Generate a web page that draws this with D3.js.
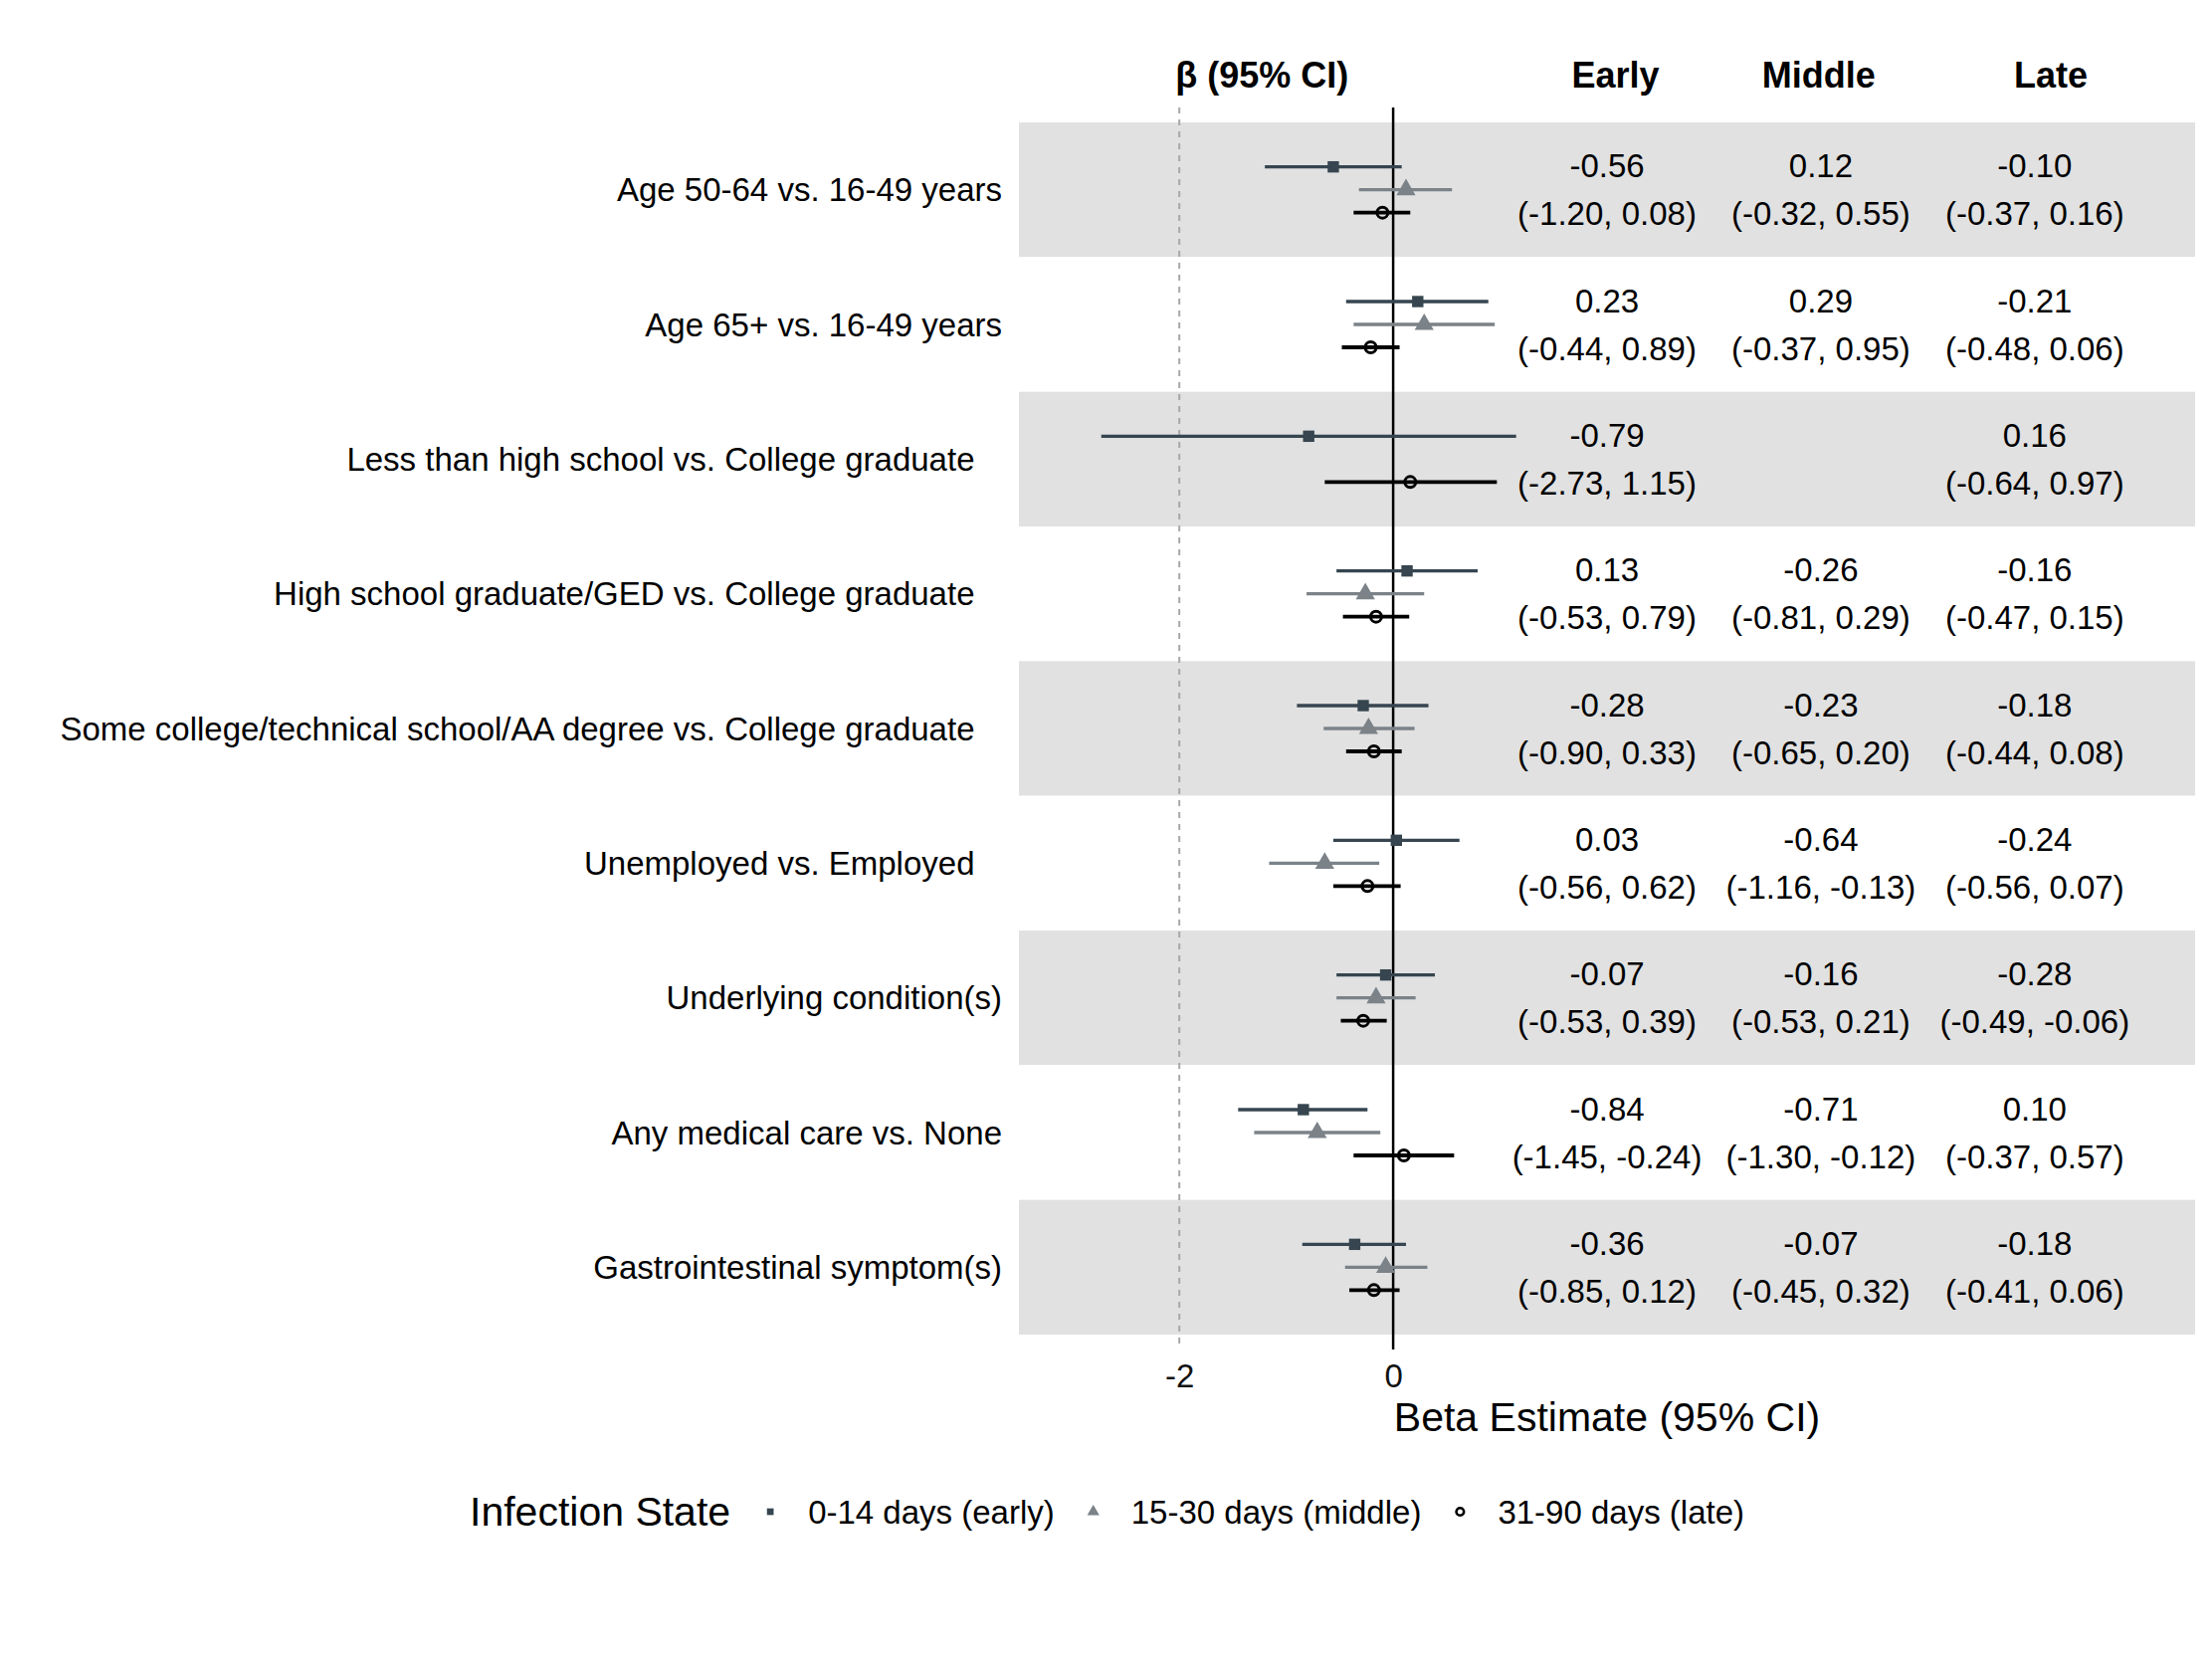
<!DOCTYPE html>
<html>
<head>
<meta charset="utf-8">
<script src="https://cdn.jsdelivr.net/npm/d3@7"></script>
<style>
  body { margin: 0; background: #fff; }
  svg { font-family: "Liberation Sans", Arial, sans-serif; }
</style>
</head>
<body>
<svg id="chart"></svg>
<script>
const W = 2223, H = 1667;

// row labels (trailing spaces are in the original strings)
const labels = [
    "Age 50-64 vs. 16-49 years",
    "Age 65+ vs. 16-49 years",
    "Less than high school vs. College graduate   ",
    "High school graduate/GED vs. College graduate   ",
    "Some college/technical school/AA degree vs. College graduate   ",
    "Unemployed vs. Employed   ",
    "Underlying condition(s)",
    "Any medical care vs. None",
    "Gastrointestinal symptom(s)"
];

// [estimate, lower, upper]
const early = [
    [-0.56, -1.20, 0.08],
    [0.23, -0.44, 0.89],
    [-0.79, -2.73, 1.15],
    [0.13, -0.53, 0.79],
    [-0.28, -0.90, 0.33],
    [0.03, -0.56, 0.62],
    [-0.07, -0.53, 0.39],
    [-0.84, -1.45, -0.24],
    [-0.36, -0.85, 0.12]
];
const middle = [
    [0.12, -0.32, 0.55],
    [0.29, -0.37, 0.95],
    null,
    [-0.26, -0.81, 0.29],
    [-0.23, -0.65, 0.20],
    [-0.64, -1.16, -0.13],
    [-0.16, -0.53, 0.21],
    [-0.71, -1.30, -0.12],
    [-0.07, -0.45, 0.32]
];
const late = [
    [-0.10, -0.37, 0.16],
    [-0.21, -0.48, 0.06],
    [0.16, -0.64, 0.97],
    [-0.16, -0.47, 0.15],
    [-0.18, -0.44, 0.08],
    [-0.24, -0.56, 0.07],
    [-0.28, -0.49, -0.06],
    [0.10, -0.37, 0.57],
    [-0.18, -0.41, 0.06]
];

const seriesKeys = ["early", "middle", "late"];
const seriesData = { early: early, middle: middle, late: late };
const seriesNames = ["0-14 days (early)", "15-30 days (middle)", "31-90 days (late)"];
const tableHeads = ["Early", "Middle", "Late"];
const xTicks = [-2, 0];

// look
const colors = { early: "#36454f", middle: "#7b8288", late: "#000000" };
const panel = { left: 1024, right: 2206, top: 123, bottom: 1341 };
const tableAt = [2, 4, 6];          // data units of the text columns
const headAt = [2.08, 3.98, 6.15];

const fmt = d3.formatLocale({ decimal: ".", thousands: ",", grouping: [3], currency: ["", ""], minus: "-" }).format(".2f");

const svg = d3.select("#chart").attr("width", W).attr("height", H);

const x = d3.scaleLinear().domain([-3.5, 7.5]).range([panel.left, panel.right]);
const y = d3.scaleBand().domain(d3.range(labels.length)).range([panel.top, panel.bottom]);
const off = d3.scalePoint().domain(seriesKeys).range([-23, 23]);

// striped bands
svg.append("g").selectAll("rect")
    .data(labels)
    .join("rect")
    .attr("x", panel.left)
    .attr("width", panel.right - panel.left)
    .attr("y", (d, i) => y(i))
    .attr("height", y.bandwidth())
    .attr("fill", (d, i) => i % 2 === 0 ? "#e1e1e1" : "#ffffff");

// row labels
svg.append("g").selectAll("text")
    .data(labels)
    .join("text")
    .attr("xml:space", "preserve")
    .style("white-space", "pre")
    .attr("x", 1007)
    .attr("y", (d, i) => y(i) + y.bandwidth() / 2)
    .attr("dy", "0.35em")
    .attr("text-anchor", "end")
    .attr("font-size", 33)
    .attr("fill", "#000")
    .text(d => d);

// reference lines
svg.append("line")
    .attr("x1", x(-2)).attr("x2", x(-2))
    .attr("y1", 108).attr("y2", 1356)
    .attr("stroke", "#a8a8a8").attr("stroke-width", 2)
    .attr("stroke-dasharray", "6,6");
svg.append("line")
    .attr("x1", x(0)).attr("x2", x(0))
    .attr("y1", 108).attr("y2", 1356)
    .attr("stroke", "#000").attr("stroke-width", 2.5);

// error bars + points
const shapes = {
    early: d3.symbol().type(d3.symbolSquare).size(130),
    middle: d3.symbol().type(d3.symbolTriangle).size(160)
};

seriesKeys.forEach(k => {
    const rows = seriesData[k].map((v, i) => v ? { i, est: v[0], lo: v[1], hi: v[2] } : null).filter(v => v);
    const g = svg.append("g");
    const cy = d => y(d.i) + y.bandwidth() / 2 + off(k);

    g.selectAll("line")
        .data(rows)
        .join("line")
        .attr("x1", d => x(d.lo)).attr("x2", d => x(d.hi))
        .attr("y1", cy).attr("y2", cy)
        .attr("stroke", colors[k])
        .attr("stroke-width", k === "late" ? 3.8 : 3.4);

    if (k === "late") {
        g.selectAll("circle")
            .data(rows)
            .join("circle")
            .attr("cx", d => x(d.est)).attr("cy", cy)
            .attr("r", 5.5)
            .attr("fill", "none")
            .attr("stroke", "#000").attr("stroke-width", 3);
    } else {
        g.selectAll("path")
            .data(rows)
            .join("path")
            .attr("transform", d => `translate(${x(d.est)},${cy(d)})`)
            .attr("d", shapes[k])
            .attr("fill", colors[k]);
    }
});

// table text
const tbl = svg.append("g").attr("font-size", 33).attr("fill", "#000").attr("text-anchor", "middle");
seriesKeys.forEach((k, c) => {
    seriesData[k].forEach((v, i) => {
        if (!v) return;
        const cyy = y(i) + y.bandwidth() / 2;
        tbl.append("text")
            .attr("x", x(tableAt[c])).attr("y", cyy - 24).attr("dy", "0.35em")
            .text(fmt(v[0]));
        tbl.append("text")
            .attr("x", x(tableAt[c])).attr("y", cyy + 24).attr("dy", "0.35em")
            .text(`(${fmt(v[1])}, ${fmt(v[2])})`);
    });
});

// headers
const heads = svg.append("g").attr("font-size", 36).attr("font-weight", "bold").attr("text-anchor", "middle");
heads.append("text")
    .attr("x", x(-2) - 4).attr("y", 75).attr("dy", "0.35em")
    .attr("text-anchor", "start")
    .text("β (95% CI)");
tableHeads.forEach((h, c) => {
    heads.append("text")
        .attr("x", x(headAt[c])).attr("y", 75).attr("dy", "0.35em")
        .text(h);
});

// x axis
const ax = svg.append("g")
    .attr("transform", `translate(0,1358)`)
    .call(d3.axisBottom(x).tickValues(xTicks).tickSize(0).tickPadding(13).tickFormat(d => String(d)));
ax.select(".domain").remove();
ax.selectAll("text")
    .attr("font-size", 33)
    .attr("fill", "#111")
    .style("font-family", "'Liberation Sans', Arial, sans-serif");

svg.append("text")
    .attr("x", (panel.left + panel.right) / 2)
    .attr("y", 1438)
    .attr("text-anchor", "middle")
    .attr("font-size", 41)
    .attr("fill", "#000")
    .text("Beta Estimate (95% CI)");

// legend
const leg = svg.append("g").attr("transform", "translate(472,1519)");
const legTitle = leg.append("text")
    .attr("dy", "0.35em")
    .attr("font-size", 41)
    .attr("fill", "#000")
    .text("Infection State");
let lx = legTitle.node().getComputedTextLength() + 40;
const legShapes = {
    early: d3.symbol().type(d3.symbolSquare).size(45),
    middle: d3.symbol().type(d3.symbolTriangle).size(65)
};
seriesKeys.forEach((k, i) => {
    if (k === "late") {
        leg.append("circle")
            .attr("cx", lx).attr("cy", 0).attr("r", 3.8)
            .attr("fill", "none").attr("stroke", "#000").attr("stroke-width", 2.6);
    } else {
        leg.append("path")
            .attr("transform", `translate(${lx},0)`)
            .attr("d", legShapes[k])
            .attr("fill", colors[k]);
    }
    const t = leg.append("text")
        .attr("x", lx + 38)
        .attr("dy", "0.35em")
        .attr("font-size", 33)
        .attr("fill", "#000")
        .text(seriesNames[i]);
    lx += 38 + t.node().getComputedTextLength() + 39;
});
</script>
</body>
</html>
